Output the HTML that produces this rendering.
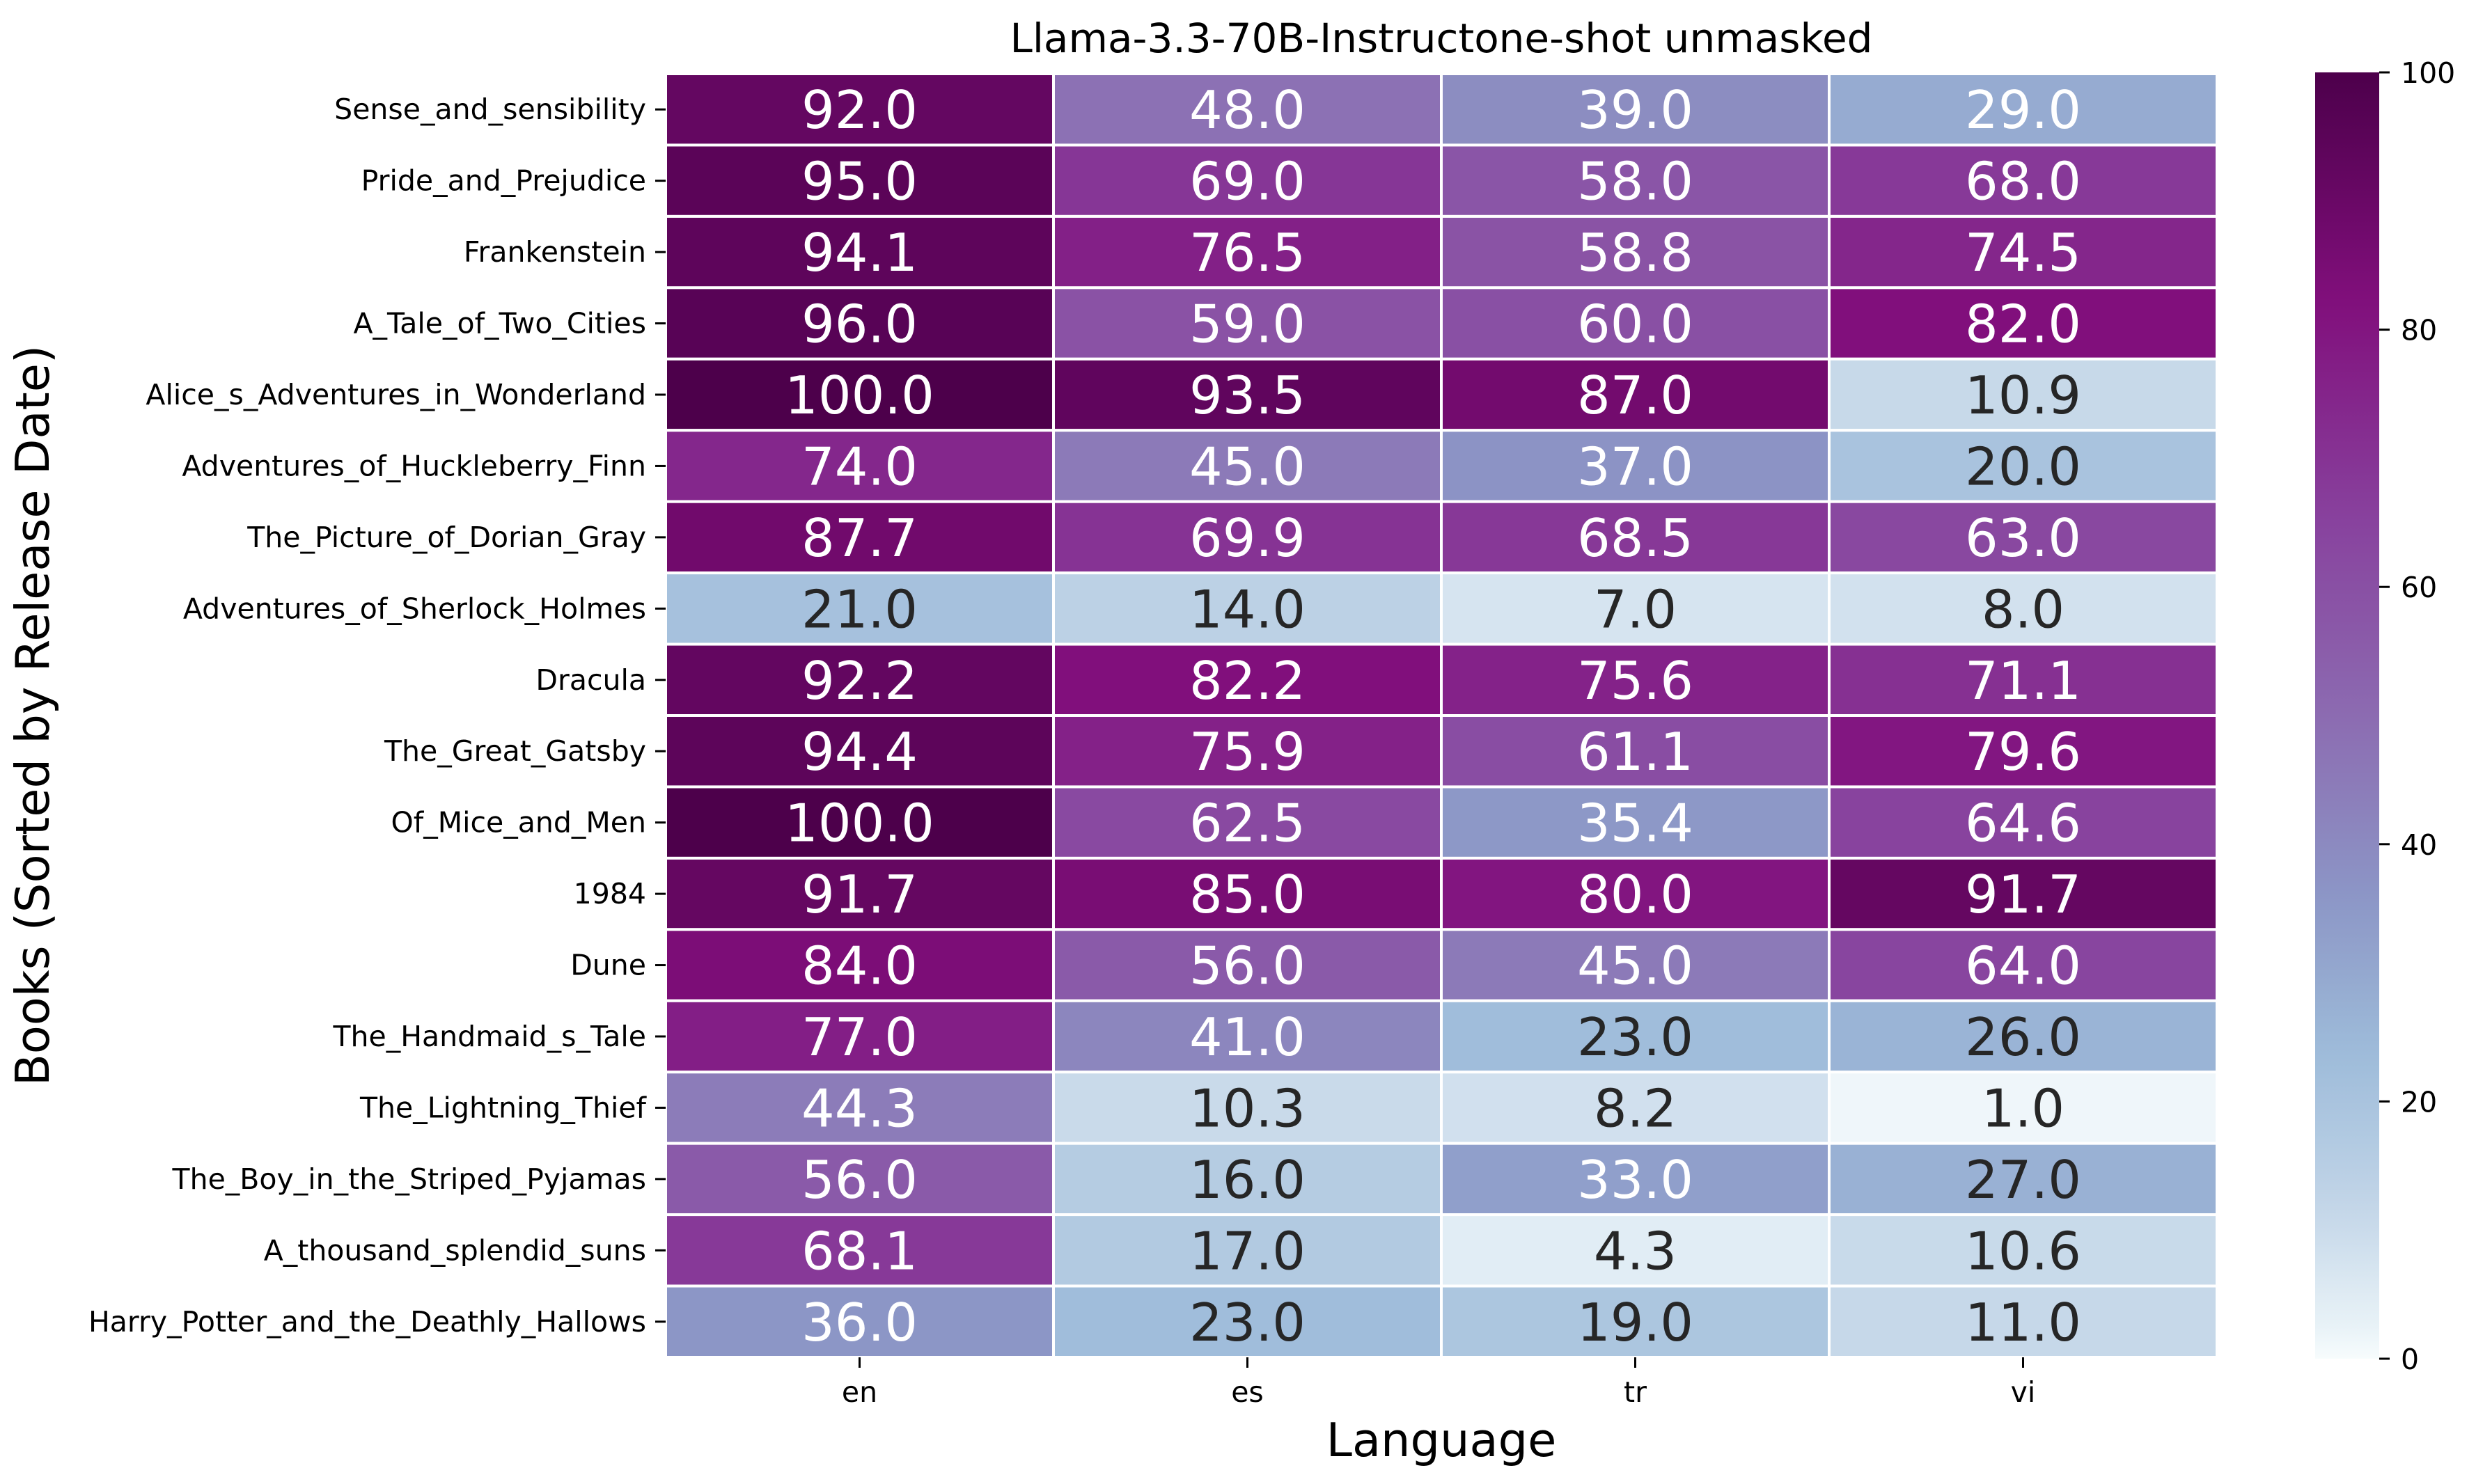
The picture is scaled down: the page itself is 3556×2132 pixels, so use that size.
<!DOCTYPE html>
<html><head><meta charset="utf-8"><style>
html,body{margin:0;padding:0;background:#fff}
svg{display:block}
text{font-family:"DejaVu Sans","Liberation Sans",sans-serif}
</style></head><body>
<svg id="chart" width="3556" height="2132" viewBox="0 0 3556 2132" xmlns="http://www.w3.org/2000/svg">
<defs><linearGradient id="cbg" x1="0" y1="1" x2="0" y2="0"></linearGradient></defs>
<text x="2070" y="75" font-size="58" text-anchor="middle">Llama-3.3-70B-Instructone-shot unmasked</text>
<text transform="translate(70,1028) rotate(-90)" font-size="67" text-anchor="middle">Books (Sorted by Release Date)</text>
<text x="2070" y="2092" font-size="67" text-anchor="middle">Language</text>
<g id="cells"></g><g id="ylab"></g><g id="xlab"></g>
<rect x="3325" y="104" width="92" height="1848" fill="url(#cbg)"/>
<g id="cbticks"></g>
</svg>
<script>
const books=["Sense_and_sensibility","Pride_and_Prejudice","Frankenstein","A_Tale_of_Two_Cities","Alice_s_Adventures_in_Wonderland","Adventures_of_Huckleberry_Finn","The_Picture_of_Dorian_Gray","Adventures_of_Sherlock_Holmes","Dracula","The_Great_Gatsby","Of_Mice_and_Men","1984","Dune","The_Handmaid_s_Tale","The_Lightning_Thief","The_Boy_in_the_Striped_Pyjamas","A_thousand_splendid_suns","Harry_Potter_and_the_Deathly_Hallows"];
const langs=["en","es","tr","vi"];
const enVals=[92.0,95.0,94.1,96.0,100.0,74.0,87.7,21.0,92.2,94.4,100.0,91.7,84.0,77.0,44.3,56.0,68.1,36.0];
const esVals=[48.0,69.0,76.5,59.0,93.5,45.0,69.9,14.0,82.2,75.9,62.5,85.0,56.0,41.0,10.3,16.0,17.0,23.0];
const trVals=[39.0,58.0,58.8,60.0,87.0,37.0,68.5,7.0,75.6,61.1,35.4,80.0,45.0,23.0,8.2,33.0,4.3,19.0];
const viVals=[29.0,68.0,74.5,82.0,10.9,20.0,63.0,8.0,71.1,79.6,64.6,91.7,64.0,26.0,1.0,27.0,10.6,11.0];
const cbTicks=[0,20,40,60,80,100];
const NS="http://www.w3.org/2000/svg";
const L=956,R=3184,T=106,B=1950,vmin=0,vmax=100,gamma=0.68;
const cw=(R-L)/langs.length, rh=(B-T)/books.length;
const xAt=i=>L+i*cw, yAt=j=>T+j*rh;
const stops=["#f7fcfd","#e0ecf4","#bfd3e6","#9ebcda","#8c96c6","#8c6bb1","#88419d","#810f7c","#4d004b"].map(h=>[1,3,5].map(k=>parseInt(h.substr(k,2),16)));
function cmap(v){let t=Math.pow(Math.max(0,Math.min(1,(v-vmin)/(vmax-vmin))),gamma)*(stops.length-1);let i=Math.min(Math.floor(t),stops.length-2),f=t-i;return stops[i].map((c,k)=>Math.round(c+(stops[i+1][k]-c)*f));}
function lum(c){const l=c.map(x=>{x/=255;return x<=0.03928?x/12.92:Math.pow((x+0.055)/1.055,2.4)});return 0.2126*l[0]+0.7152*l[1]+0.0722*l[2];}
function mk(tag,attrs,parent){const e=document.createElementNS(NS,tag);for(const k in attrs)e.setAttribute(k,attrs[k]);parent.appendChild(e);return e;}
const series=[enVals,esVals,trVals,viVals];
const cells=document.getElementById('cells');
series.forEach((vals,i)=>{vals.forEach((v,j)=>{
 const c=cmap(v);
 const r=mk('rect',{x:xAt(i),y:yAt(j),width:cw,height:rh,fill:`rgb(${c})`,stroke:'#fff','stroke-width':4},cells);
 
 
 const t=mk('text',{x:xAt(i)+cw/2,y:yAt(j)+rh/2+27,'font-size':75,'text-anchor':'middle',fill:lum(c)>0.408?'#262626':'#fff'},cells);
 t.textContent=v.toFixed(1);
 
 
});});
const yl=document.getElementById('ylab');
books.forEach((b,j)=>{const y=yAt(j)+rh/2;
 mk('line',{x1:941,x2:956,y1:y,y2:y,stroke:'#000','stroke-width':3},yl);
 const t=mk('text',{x:928,y:y+14,'font-size':41,'text-anchor':'end'},yl);t.textContent=b;
 
 });
const xl=document.getElementById('xlab');
langs.forEach((l,i)=>{const x=xAt(i)+cw/2;
 mk('line',{x1:x,x2:x,y1:1950,y2:1965,stroke:'#000','stroke-width':3},xl);
 const t=mk('text',{x:x,y:2014,'font-size':41,'text-anchor':'middle'},xl);t.textContent=l;
 
 });
const g=document.getElementById('cbg');
for(let k=0;k<=40;k++){const c=cmap(vmin+k/40*(vmax-vmin));mk('stop',{offset:k/40,'stop-color':`rgb(${c})`},g);}
const cb=document.getElementById('cbticks');
cbTicks.forEach(v=>{const y=1952-(v-vmin)/(vmax-vmin)*(1952-104);
 mk('line',{x1:3417,x2:3432,y1:y,y2:y,stroke:'#000','stroke-width':3},cb);
 const t=mk('text',{x:3448,y:y+15,'font-size':41},cb);t.textContent=v;
 
 });
</script>
</body></html>
